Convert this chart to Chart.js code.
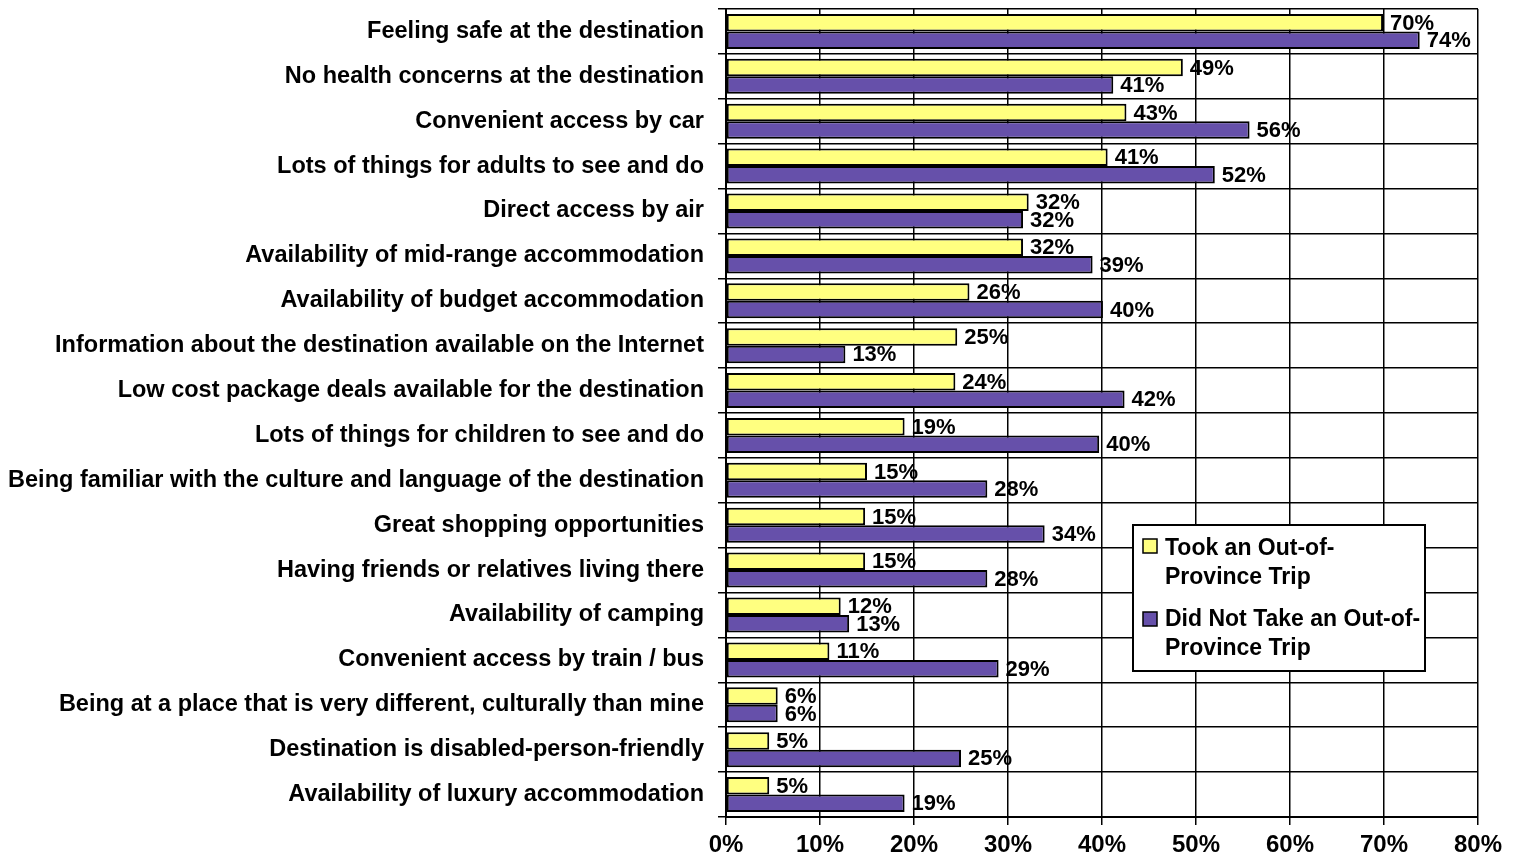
<!DOCTYPE html>
<html>
<head>
<meta charset="utf-8">
<script src="https://cdn.jsdelivr.net/npm/chart.js@4.4.0/dist/chart.umd.min.js"></script>
<style>
  html,body{margin:0;padding:0;background:#fff;}
  #wrap{position:relative;width:1517px;height:867px;}
</style>
</head>
<body>
<div id="wrap"><canvas id="chart" width="1517" height="867"></canvas></div>
<script>
// ---- data ----
const CATEGORIES = [
  "Feeling safe at the destination",
  "No health concerns at the destination",
  "Convenient access by car",
  "Lots of things for adults to see and do",
  "Direct access by air",
  "Availability of mid-range accommodation",
  "Availability of budget accommodation",
  "Information about the destination available on the Internet",
  "Low cost package deals available for the destination",
  "Lots of things for children to see and do",
  "Being familiar with the culture and language of the destination",
  "Great shopping opportunities",
  "Having friends or relatives living there",
  "Availability of camping",
  "Convenient access by train / bus",
  "Being at a place that is very different, culturally than mine",
  "Destination is disabled-person-friendly",
  "Availability of luxury accommodation"
];
const TOOK = [69.9, 48.6, 42.6, 40.6, 32.2, 31.6, 25.9, 24.6, 24.4, 19.0, 15.0, 14.8, 14.8, 12.2, 11.0, 5.5, 4.6, 4.6];
const DID_NOT = [73.8, 41.2, 55.7, 52.0, 31.6, 39.0, 40.1, 12.7, 42.4, 39.7, 27.8, 33.9, 27.8, 13.1, 29.0, 5.5, 25.0, 19.0];
const SERIES_NAMES = [["Took an Out-of-", "Province Trip"], ["Did Not Take an Out-of-", "Province Trip"]];
const X_TICKS = [0, 10, 20, 30, 40, 50, 60, 70, 80];

const FONT = '"Liberation Sans", Arial, sans-serif';
const YELLOW = "#ffff80";
const PURPLE = "#6650aa";

// подписи значений у конца столбика
const valueLabels = {
  id: "valueLabels",
  afterDatasetsDraw(chart){
    const ctx = chart.ctx;
    ctx.save();
    ctx.font = "bold 22px " + FONT;
    ctx.fillStyle = "#000";
    ctx.textBaseline = "middle";
    ctx.textAlign = "left";
    chart.data.datasets.forEach((ds, i) => {
      chart.getDatasetMeta(i).data.forEach((el, j) => {
        ctx.fillText(Math.round(ds.data[j]) + "%", el.x + 7, el.y + 1);
      });
    });
    ctx.restore();
  }
};

// легенда в рамке внутри области графика
const boxLegend = {
  id: "boxLegend",
  afterDraw(chart){
    const ctx = chart.ctx;
    const a = chart.chartArea;
    const x0 = a.left + 407, y0 = a.top + 516, w = 292, h = 146;
    ctx.save();
    ctx.fillStyle = "#fff";
    ctx.fillRect(x0, y0, w, h);
    ctx.strokeStyle = "#000";
    ctx.lineWidth = 2;
    ctx.strokeRect(x0, y0, w, h);
    ctx.font = "bold 23px " + FONT;
    ctx.textBaseline = "alphabetic";
    const colors = [YELLOW, PURPLE];
    const rows = [[30, 59], [101, 130]];
    SERIES_NAMES.forEach((lines, i) => {
      const sy = y0 + (i ? 87 : 14);
      ctx.fillStyle = colors[i];
      ctx.fillRect(x0 + 10, sy, 14, 14);
      ctx.lineWidth = 1.5;
      ctx.strokeRect(x0 + 10, sy, 14, 14);
      ctx.fillStyle = "#000";
      ctx.fillText(lines[0], x0 + 32, y0 + rows[i][0]);
      ctx.fillText(lines[1], x0 + 32, y0 + rows[i][1]);
    });
    ctx.restore();
  }
};

new Chart(document.getElementById("chart"), {
  type: "bar",
  data: {
    labels: CATEGORIES,
    datasets: [
      { label: SERIES_NAMES[0].join(""), data: TOOK, backgroundColor: YELLOW, borderColor: "#000", borderWidth: 2, borderSkipped: false },
      { label: SERIES_NAMES[1].join(""), data: DID_NOT, backgroundColor: PURPLE, borderColor: "#000", borderWidth: 2, borderSkipped: false }
    ]
  },
  options: {
    indexAxis: "y",
    responsive: false,
    animation: false,
    devicePixelRatio: 1,
    categoryPercentage: 0.78,
    barPercentage: 1.0,
    layout: { padding: { top: 9, right: 39, left: 0, bottom: 0 } },
    plugins: { legend: { display: false }, tooltip: { enabled: false } },
    scales: {
      x: {
        min: 0, max: 80,
        afterBuildTicks: s => { s.ticks = X_TICKS.map(v => ({ value: v })); },
        afterFit: s => { s.height = 50; s.paddingLeft = 0; s.paddingRight = 0; },
        ticks: { color: "#000", font: { family: FONT, size: 24, weight: "bold" }, padding: 6, callback: v => v + "%" },
        grid: { color: "#000", lineWidth: 1.5, tickLength: 8, drawTicks: true },
        border: { color: "#000", width: 2 }
      },
      y: {
        afterFit: s => { s.width = 726; s.paddingTop = 0; s.paddingBottom = 0; },
        ticks: { color: "#000", font: { family: FONT, size: 23.5, weight: "bold" }, padding: 14, autoSkip: false },
        grid: { color: "#000", lineWidth: 1.5, tickLength: 8, offset: true },
        border: { color: "#000", width: 2 }
      }
    }
  },
  plugins: [valueLabels, boxLegend]
});
</script>
</body>
</html>
